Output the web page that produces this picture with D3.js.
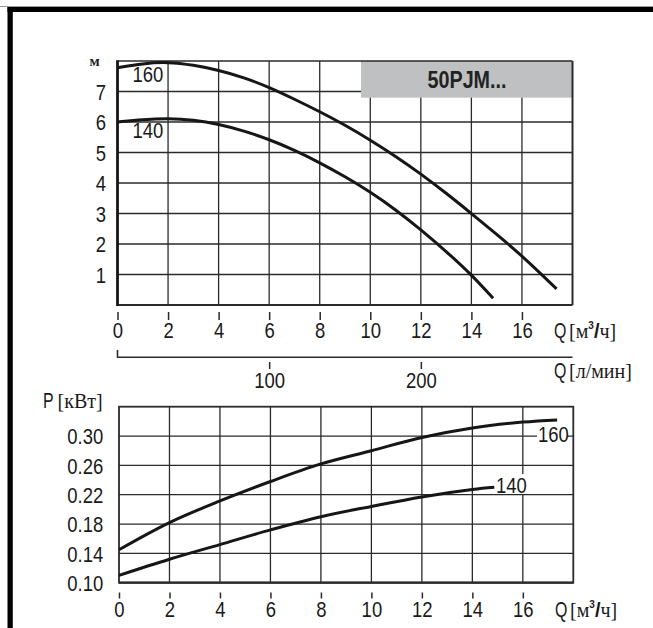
<!DOCTYPE html>
<html>
<head>
<meta charset="utf-8">
<script src="https://cdn.jsdelivr.net/npm/d3@7"></script>
<style>
  html, body { margin: 0; padding: 0; background: #fff; }
  svg { display: block; }
</style>
</head>
<body>
<svg id="chart" width="653" height="628"></svg>
<script>
// ---- data ----------------------------------------------------------
// Head curves H(Q), Q in m3/h, H in m
const qH160 = [0, 1, 2, 3, 4, 5, 6, 7, 8, 9, 10, 11, 12, 13, 14, 15, 16, 17.37];
const h160  = [7.78, 7.92, 7.97, 7.87, 7.70, 7.46, 7.14, 6.75, 6.34, 5.90, 5.41, 4.88, 4.30, 3.67, 3.00, 2.32, 1.62, 0.53];
const qH140 = [0, 1, 2, 3, 4, 5, 6, 7, 8, 9, 10, 11, 12, 13, 14, 14.86];
const h140  = [6.00, 6.08, 6.12, 6.07, 5.93, 5.71, 5.43, 5.08, 4.67, 4.21, 3.71, 3.13, 2.47, 1.76, 1.00, 0.22];

// Power curves P(Q), P in kW
const qP160 = [0, 2, 4, 6, 8, 10, 12, 14, 16, 17.36];
const p160  = [0.145, 0.182, 0.2115, 0.238, 0.262, 0.280, 0.298, 0.311, 0.319, 0.322];
const qP140 = [0, 2, 4, 6, 8, 10, 12, 14, 14.87];
const p140  = [0.110, 0.132, 0.152, 0.172, 0.190, 0.204, 0.217, 0.227, 0.230];

// Axis ticks
const qTicks     = [0, 2, 4, 6, 8, 10, 12, 14, 16];
const qGrid      = [2, 4, 6, 8, 10, 12, 14, 16];
const hTicks     = [1, 2, 3, 4, 5, 6, 7];
const lminTicks  = [100, 200];
const pTicks     = [0.10, 0.14, 0.18, 0.22, 0.26, 0.30];
const pGrid      = [0.14, 0.18, 0.22, 0.26, 0.30];

const modelName = "50PJM...";
const curveNames = ["160", "140"];

// ---- setup ---------------------------------------------------------
const svg = d3.select("#chart");
const SANS = "'Liberation Sans', Arial, sans-serif";
const SERIF = "'Liberation Serif', 'Times New Roman', serif";
const CONDENSE = 0.86;
const GRID = "#2a2a2a";
const INK = "#161616";
const FS = 21.5;

// page frame (top and left bars)
svg.append("rect").attr("x", 0).attr("y", 6).attr("width", 653).attr("height", 1).attr("fill", "#9a9a9a");
svg.append("rect").attr("x", 7.5).attr("y", 7).attr("width", 646).attr("height", 5).attr("fill", "#000");
svg.append("rect").attr("x", 7.5).attr("y", 7).attr("width", 5.3).attr("height", 621).attr("fill", "#000");

// condensed text helper
function condText(parent, x, y, str, opts = {}) {
  const g = parent.append("g").attr("transform", `translate(${x},${y})`);
  const t = g.append("text")
    .attr("transform", `scale(${opts.scale || CONDENSE},1)`)
    .attr("text-anchor", opts.anchor || "start")
    .attr("font-family", SANS)
    .attr("font-size", opts.size || FS)
    .attr("font-weight", opts.weight || "normal")
    .attr("fill", opts.fill || "#1a1a1a")
    .text(str);
  return t;
}
function styleTicks(sel) {
  sel.attr("transform", `scale(${CONDENSE},1)`)
    .attr("font-family", SANS).attr("font-size", FS).attr("fill", "#1a1a1a");
}

// ---- upper chart: head --------------------------------------------
const xQ = d3.scaleLinear().domain([0, 18]).range([117.5, 572.5]);
const yH = d3.scaleLinear().domain([0, 8]).range([305, 61]);

const up = svg.append("g");
// grid
up.selectAll("line.hg").data(hTicks).join("line")
  .attr("x1", xQ(0)).attr("x2", xQ(18))
  .attr("y1", d => yH(d)).attr("y2", d => yH(d))
  .attr("stroke", GRID).attr("stroke-width", 1.3);
up.selectAll("line.vg").data(qGrid).join("line")
  .attr("x1", d => xQ(d)).attr("x2", d => xQ(d))
  .attr("y1", yH(0)).attr("y2", yH(8))
  .attr("stroke", GRID).attr("stroke-width", 1.3);

// model box
up.append("rect")
  .attr("x", 361).attr("y", yH(8))
  .attr("width", xQ(18) - 361).attr("height", 97.7 - yH(8))
  .attr("fill", "#bfc0c2");
condText(up, 467, 87.5, modelName, { anchor: "middle", size: 23.5, weight: "bold", scale: 0.84, fill: "#222" });

// frame
up.append("line").attr("x1", xQ(0)).attr("x2", xQ(18)).attr("y1", yH(8)).attr("y2", yH(8)).attr("stroke", GRID).attr("stroke-width", 1.6);
up.append("line").attr("x1", xQ(0)).attr("x2", xQ(18)).attr("y1", yH(0)).attr("y2", yH(0)).attr("stroke", GRID).attr("stroke-width", 2.2);
up.append("line").attr("x1", xQ(18)).attr("x2", xQ(18)).attr("y1", yH(8)).attr("y2", yH(0)).attr("stroke", GRID).attr("stroke-width", 2);
up.append("line").attr("x1", xQ(0)).attr("x2", xQ(0)).attr("y1", yH(8) - 0.8).attr("y2", yH(0) + 1).attr("stroke", INK).attr("stroke-width", 2.8);

// curves
const lineH = d3.line().x(d => xQ(d[0])).y(d => yH(d[1])).curve(d3.curveBasis);
[[qH160, h160], [qH140, h140]].forEach(([qs, hs]) => {
  up.append("path")
    .datum(qs.map((q, i) => [q, hs[i]]))
    .attr("d", lineH)
    .attr("fill", "none").attr("stroke", INK).attr("stroke-width", 3);
});
condText(up, 132.5, 81.5, curveNames[0]);
condText(up, 132.5, 138, curveNames[1]);

// y axis
const yAxisH = up.append("g").attr("transform", `translate(${xQ(0)},0)`)
  .call(d3.axisLeft(yH).tickValues(hTicks).tickSize(0).tickFormat(d3.format("d")));
yAxisH.select(".domain").remove();
styleTicks(yAxisH.selectAll("text").attr("x", -11.5 / CONDENSE).attr("dy", "0.36em"));
svg.append("text").attr("x", 89.5).attr("y", 65.5)
  .attr("font-family", SERIF).attr("font-size", 15).attr("font-weight", "bold")
  .attr("fill", "#222").text("м");

// x axis (m3/h)
const xAxisQ = up.append("g").attr("transform", "translate(0,312)")
  .call(d3.axisBottom(xQ).tickValues(qTicks).tickSize(8).tickPadding(3).tickFormat(d3.format("d")));
xAxisQ.select(".domain").remove();
xAxisQ.selectAll("line").attr("stroke", GRID).attr("stroke-width", 1.5);
styleTicks(xAxisQ.selectAll("text"));

// unit label helper: "Q [м³/ч]"
function unitQ(parent, x, y) {
  condText(parent, x, y, "Q", { scale: 0.74 });
  const t = parent.append("text").attr("x", x + 15).attr("y", y)
    .attr("font-family", SERIF).attr("font-size", 20).attr("fill", "#1a1a1a");
  t.append("tspan").text("[м");
  t.append("tspan").attr("font-family", SANS).attr("font-weight", "bold").attr("font-size", 10).attr("dy", -9).text("3");
  t.append("tspan").attr("font-family", SANS).attr("font-weight", "bold").attr("font-size", 20).attr("dy", 9).text("/");
  t.append("tspan").text("ч]");
}
unitQ(svg, 554, 338);

// second flow axis (l/min)
const xL = d3.scaleLinear().domain([0, 300]).range([xQ(0), xQ(18)]);
const lAxis = svg.append("g").attr("transform", "translate(0,362)")
  .call(d3.axisBottom(xL).tickValues(lminTicks).tickSize(7).tickPadding(4).tickFormat(d3.format("d")));
lAxis.select(".domain").remove();
lAxis.selectAll("line").attr("stroke", GRID).attr("stroke-width", 1.5);
styleTicks(lAxis.selectAll("text"));
svg.append("line").attr("x1", xL(0)).attr("x2", xL(300)).attr("y1", 357.3).attr("y2", 357.3)
  .attr("stroke", GRID).attr("stroke-width", 1.6);
svg.append("line").attr("x1", xL(0)).attr("x2", xL(0)).attr("y1", 350).attr("y2", 358)
  .attr("stroke", GRID).attr("stroke-width", 1.6);
condText(svg, 554, 378, "Q", { scale: 0.74 });
svg.append("text").attr("x", 569).attr("y", 378)
  .attr("font-family", SERIF).attr("font-size", 20).attr("fill", "#1a1a1a").text("[л/мин]");

// ---- lower chart: power -------------------------------------------
const xP = d3.scaleLinear().domain([0, 18]).range([119, 573.3]);
const yP = d3.scaleLinear().domain([0.10, 0.34]).range([582.7, 406.7]);
const lo = svg.append("g");

lo.selectAll("line.hg").data(pGrid).join("line")
  .attr("x1", xP(0)).attr("x2", xP(18))
  .attr("y1", d => yP(d)).attr("y2", d => yP(d))
  .attr("stroke", GRID).attr("stroke-width", 1.3);
lo.selectAll("line.vg").data(qGrid).join("line")
  .attr("x1", d => xP(d)).attr("x2", d => xP(d))
  .attr("y1", yP(0.10)).attr("y2", yP(0.34))
  .attr("stroke", GRID).attr("stroke-width", 1.3);

lo.append("rect").attr("x", xP(0)).attr("y", yP(0.34))
  .attr("width", xP(18) - xP(0)).attr("height", yP(0.10) - yP(0.34))
  .attr("fill", "none").attr("stroke", GRID).attr("stroke-width", 1.8);
lo.append("line").attr("x1", xP(0)).attr("x2", xP(18)).attr("y1", yP(0.10)).attr("y2", yP(0.10))
  .attr("stroke", GRID).attr("stroke-width", 2.2);

const lineP = d3.line().x(d => xP(d[0])).y(d => yP(d[1])).curve(d3.curveCatmullRom);
[[qP160, p160], [qP140, p140]].forEach(([qs, ps]) => {
  lo.append("path")
    .datum(qs.map((q, i) => [q, ps[i]]))
    .attr("d", lineP)
    .attr("fill", "none").attr("stroke", INK).attr("stroke-width", 3);
});

// curve labels with white backing over the grid
lo.append("rect").attr("x", 537).attr("y", 426).attr("width", 30).attr("height", 17).attr("fill", "#fff");
condText(lo, 538, 442, curveNames[0]);
lo.append("rect").attr("x", 495).attr("y", 474).attr("width", 31).attr("height", 20).attr("fill", "#fff");
condText(lo, 496, 493, curveNames[1]);

const yAxisP = lo.append("g").attr("transform", `translate(${xP(0)},0)`)
  .call(d3.axisLeft(yP).tickValues(pTicks).tickSize(0).tickFormat(d3.format(".2f")));
yAxisP.select(".domain").remove();
styleTicks(yAxisP.selectAll("text").attr("x", -15.7 / CONDENSE).attr("dy", "0.36em"));

condText(lo, 43, 408, "P", { scale: 0.74 });
lo.append("text").attr("x", 57.5).attr("y", 408)
  .attr("font-family", SERIF).attr("font-size", 20).attr("fill", "#1a1a1a").text("[кВт]");

const xAxisP = lo.append("g").attr("transform", "translate(0,592.5)")
  .call(d3.axisBottom(xP).tickValues(qTicks).tickSize(6).tickPadding(3).tickFormat(d3.format("d")));
xAxisP.select(".domain").remove();
xAxisP.selectAll("line").attr("stroke", GRID).attr("stroke-width", 1.5);
styleTicks(xAxisP.selectAll("text"));
unitQ(lo, 555, 617);
</script>
</body>
</html>
